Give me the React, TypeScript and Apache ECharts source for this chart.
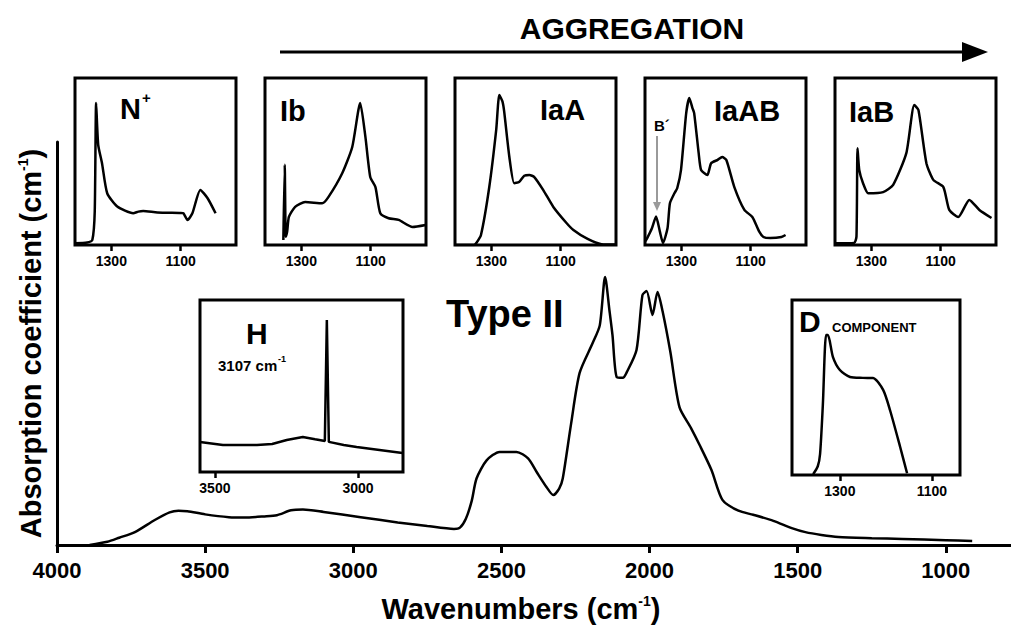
import React, { useEffect, useRef } from 'react';
import * as echarts from 'echarts';

const FONT = '"Liberation Sans", Arial, Helvetica, sans-serif';

// tick labels
const mainTicks = [4000, 3500, 3000, 2500, 2000, 1500, 1000];
const insetTicks = [1300, 1100];
const hTicks = [3500, 3000];

// main Type II spectrum [wavenumber, absorption (arb.)]
const mainSpectrum: [number, number][] = [
  [3890, 0], [3830, 0.8], [3790, 1.8], [3737, 3.2], [3670, 6.2], [3620, 8.1], [3590, 8.5], [3560, 8.4],
  [3500, 7.6], [3420, 6.9], [3366, 6.8], [3300, 7.1], [3258, 7.4], [3210, 8.6], [3170, 8.8], [3100, 8.2],
  [2975, 6.9], [2850, 5.6], [2750, 4.7], [2660, 4.0], [2640, 4.3], [2620, 6.5], [2600, 11], [2584, 16.5],
  [2550, 21], [2506, 23.1], [2449, 23.1], [2410, 21.5], [2380, 18], [2348, 14.4], [2325, 12.4], [2305, 14],
  [2293, 16.5], [2265, 30], [2236, 42.7], [2192, 50.1], [2168, 54.5], [2150, 66.5], [2135, 58], [2125, 52],
  [2111, 41.7], [2090, 41.5], [2078, 42.7], [2044, 48.4], [2024, 62], [2010, 63], [1990, 57.1], [1973, 62.8],
  [1956, 58], [1930, 48], [1899, 34.2], [1860, 29], [1831, 24.8], [1791, 18.6], [1754, 11.2], [1700, 8.5],
  [1650, 7.5], [1582, 6], [1520, 4.2], [1474, 3.2], [1420, 2.5], [1363, 2], [1250, 1.7], [1147, 1.5],
  [1000, 1.2], [911, 1],
];

// inset spectra (one-phonon region)
const nPlus: [number, number][] = [
  [1405, 1], [1370, 1.5], [1355, 3], [1348, 20], [1344, 85], [1338, 60], [1327, 49], [1312, 31], [1283, 23],
  [1237, 19], [1222, 20], [1208, 20.4], [1167, 19.5], [1100, 19.2], [1092, 19], [1080, 15], [1066, 19],
  [1043, 33], [1022, 28], [999, 19],
];
const ib: [number, number][] = [
  [1352, 3], [1348, 48], [1345, 5], [1341, 8], [1336, 16.8], [1318, 22.8], [1289, 25.7], [1240, 25],
  [1222, 28.7], [1182, 43], [1153, 58.7], [1130, 85], [1115, 64.7], [1101, 40.7], [1086, 34.7], [1072, 19],
  [1048, 16], [1019, 15], [979, 10.8], [941, 12],
];
const iaA: [number, number][] = [
  [1405, 0], [1350, 0], [1344, 1], [1330, 6], [1306, 34.7], [1286, 68.9], [1277, 89.8], [1268, 86],
  [1263, 80], [1248, 52.7], [1234, 37], [1220, 37.7], [1205, 41.5], [1190, 41.9], [1176, 40.7], [1150, 32.9],
  [1121, 22.8], [1083, 13.2], [1063, 9], [1022, 3.6], [982, 0.5], [941, 0.3],
];
const iaAB: [number, number][] = [
  [1405, 2], [1399, 4], [1385, 10], [1373, 17], [1362, 8], [1353, 1.2], [1340, 10], [1333, 25], [1320, 31],
  [1312, 34], [1301, 45], [1286, 79], [1277, 88], [1268, 82], [1263, 79], [1250, 55], [1243, 44.9],
  [1225, 41.9], [1214, 49], [1195, 51], [1182, 52.7], [1170, 50.9], [1147, 34.7], [1118, 21], [1095, 16.8],
  [1075, 8], [1063, 4.8], [1043, 4.2], [1011, 4.8], [999, 6],
];
const iaB: [number, number][] = [
  [1405, 1], [1350, 1.2], [1343, 5], [1340, 58], [1335, 45], [1324, 37], [1309, 31], [1266, 31.7],
  [1237, 36], [1199, 55], [1176, 83.8], [1164, 80.8], [1141, 49], [1121, 39], [1092, 34.7], [1075, 21],
  [1049, 16.8], [1017, 27], [988, 21], [953, 16.2],
];
const hSpectrum: [number, number][] = [
  [3552, 17.4], [3472, 15.7], [3353, 15.7], [3300, 16.3], [3249, 18.6], [3193, 20.3], [3150, 19],
  [3116, 18], [3109, 88.4], [3102, 17.5], [3050, 15.7], [3005, 14.5], [2845, 11],
];
const dComponent: [number, number][] = [
  [1358, 0.5], [1348, 5], [1343, 12], [1337, 40], [1330, 80], [1326, 80], [1315, 67.4], [1300, 60],
  [1278, 56], [1250, 55.5], [1228, 55.4], [1206, 48.6], [1191, 37], [1169, 16], [1154, 1],
];

const insetNames = ['N', 'Ib', 'IaA', 'IaAB', 'IaB'];
const insetData = [nPlus, ib, iaA, iaAB, iaB];

const plain = (v: number) => String(Math.round(v));

export default function App() {
  const ref = useRef<HTMLDivElement>(null);
  useEffect(() => {
    if (!ref.current) return;
    const chart = echarts.init(ref.current, undefined, { renderer: 'svg' });

    const topLefts = [75, 265, 455, 645, 835];
    const grids: any[] = [
      { left: 57, top: 142, width: 954, height: 403, show: false },
      ...topLefts.map((l) => ({
        left: l, top: 78, width: 161, height: 167, show: true,
        borderColor: '#000', borderWidth: 3, backgroundColor: '#fff', z: 5,
      })),
      { left: 200, top: 300, width: 203, height: 172, show: true, borderColor: '#000', borderWidth: 3, backgroundColor: '#fff', z: 5 },
      { left: 792, top: 300, width: 168, height: 175, show: true, borderColor: '#000', borderWidth: 3, backgroundColor: '#fff', z: 5 },
    ];

    const insetX = (gi: number, min: number, max: number, ticks: number[]) => ({
      type: 'value', gridIndex: gi, inverse: true, min, max,
      axisLine: { show: false },
      splitLine: { show: false },
      axisTick: { show: true, length: 6, lineStyle: { color: '#000', width: 2.5 }, customValues: ticks },
      axisLabel: { show: true, customValues: ticks, formatter: plain, color: '#000', fontSize: 14, fontWeight: 'bold', fontFamily: FONT, margin: 9 },
    });

    const richName = {
      m: { fontSize: 29, fontWeight: 'bold', fontFamily: FONT, color: '#000' },
      s: { fontSize: 14, fontWeight: 'bold', fontFamily: FONT, color: '#000', verticalAlign: 'top' },
    };

    const xAxes: any[] = [
      {
        type: 'value', gridIndex: 0, inverse: true, min: 780, max: 4000,
        name: '{m|Wavenumbers (cm}{s|-1}{m|)}', nameLocation: 'middle', nameGap: 49,
        nameTextStyle: { rich: richName, padding: [0, 26, 0, 0] },
        axisLine: { show: true, lineStyle: { color: '#000', width: 3 } },
        splitLine: { show: false },
        axisTick: { show: true, length: 8, lineStyle: { color: '#000', width: 3 }, customValues: mainTicks },
        axisLabel: { show: true, customValues: mainTicks, formatter: plain, color: '#000', fontSize: 22, fontWeight: 'bold', fontFamily: FONT, margin: 14 },
      },
      ...topLefts.map((_, i) => insetX(i + 1, 940, 1405, insetTicks)),
      insetX(6, 2843, 3552, hTicks),
      insetX(7, 1039, 1404, insetTicks),
    ];

    const yAxes: any[] = [
      {
        type: 'value', gridIndex: 0, min: 0, max: 100,
        name: '{m|Absorption coefficient (cm}{s|-1}{m|)}', nameLocation: 'middle', nameGap: 12,
        nameTextStyle: { rich: richName },
        axisLine: { show: true, lineStyle: { color: '#000', width: 3 } },
        axisTick: { show: false }, axisLabel: { show: false }, splitLine: { show: false },
      },
      ...[1, 2, 3, 4, 5, 6, 7].map((gi) => ({
        type: 'value', gridIndex: gi, min: 0, max: 100, show: false, splitLine: { show: false },
      })),
    ];

    const line = (idx: number, data: [number, number][], smooth: number | boolean = 0.2) => ({
      type: 'line', xAxisIndex: idx, yAxisIndex: idx, data, showSymbol: false, smooth,
      lineStyle: { color: '#000', width: 2.5 }, z: 6, silent: true,
    });

    const series: any[] = [
      line(0, mainSpectrum, 0.25),
      ...insetData.map((d, i) => line(i + 1, d, 0.2)),
      line(6, hSpectrum, false),
      line(7, dComponent, 0.25),
    ];

    const txt = (text: string, x: number, y: number, size: number, align = 'left', color = '#000') => ({
      type: 'text', x, y, z: 50,
      style: {
        text, fill: color, font: `bold ${size}px ${FONT}`,
        textAlign: align, align, textVerticalAlign: 'middle', verticalAlign: 'middle',
      },
    });

    const graphic: any[] = [
      txt('AGGREGATION', 632, 28, 30, 'center'),
      { type: 'line', z: 50, shape: { x1: 280, y1: 52, x2: 966, y2: 52 }, style: { stroke: '#000', lineWidth: 3 } },
      { type: 'polygon', z: 50, shape: { points: [[962, 42], [988, 52], [962, 62]] }, style: { fill: '#000' } },
      txt(insetNames[0], 120, 109, 29),
      txt('+', 142, 97, 15),
      txt(insetNames[1], 280, 111, 29),
      txt(insetNames[2], 540, 110, 29),
      txt(insetNames[3], 714, 111, 29),
      txt(insetNames[4], 849, 112, 29),
      txt('B´', 654, 125, 15),
      { type: 'line', z: 50, shape: { x1: 657, y1: 136, x2: 657, y2: 203 }, style: { stroke: '#9a9a9a', lineWidth: 2 } },
      { type: 'polygon', z: 50, shape: { points: [[653, 202], [661, 202], [657, 211]] }, style: { fill: '#9a9a9a' } },
      txt('H', 246, 333, 30),
      txt('3107 cm', 218, 365, 15),
      txt('-1', 278, 359, 9),
      txt('D', 799, 321, 30),
      txt('COMPONENT', 832, 327, 13),
      txt('Type II', 446, 314, 38),
    ];

    chart.setOption({
      animation: false,
      backgroundColor: '#fff',
      grid: grids,
      xAxis: xAxes,
      yAxis: yAxes,
      series,
      graphic,
    });
    return () => chart.dispose();
  }, []);
  return <div ref={ref} style={{ position: 'fixed', left: 0, top: 0, width: 1011, height: 631 }} />;
}
